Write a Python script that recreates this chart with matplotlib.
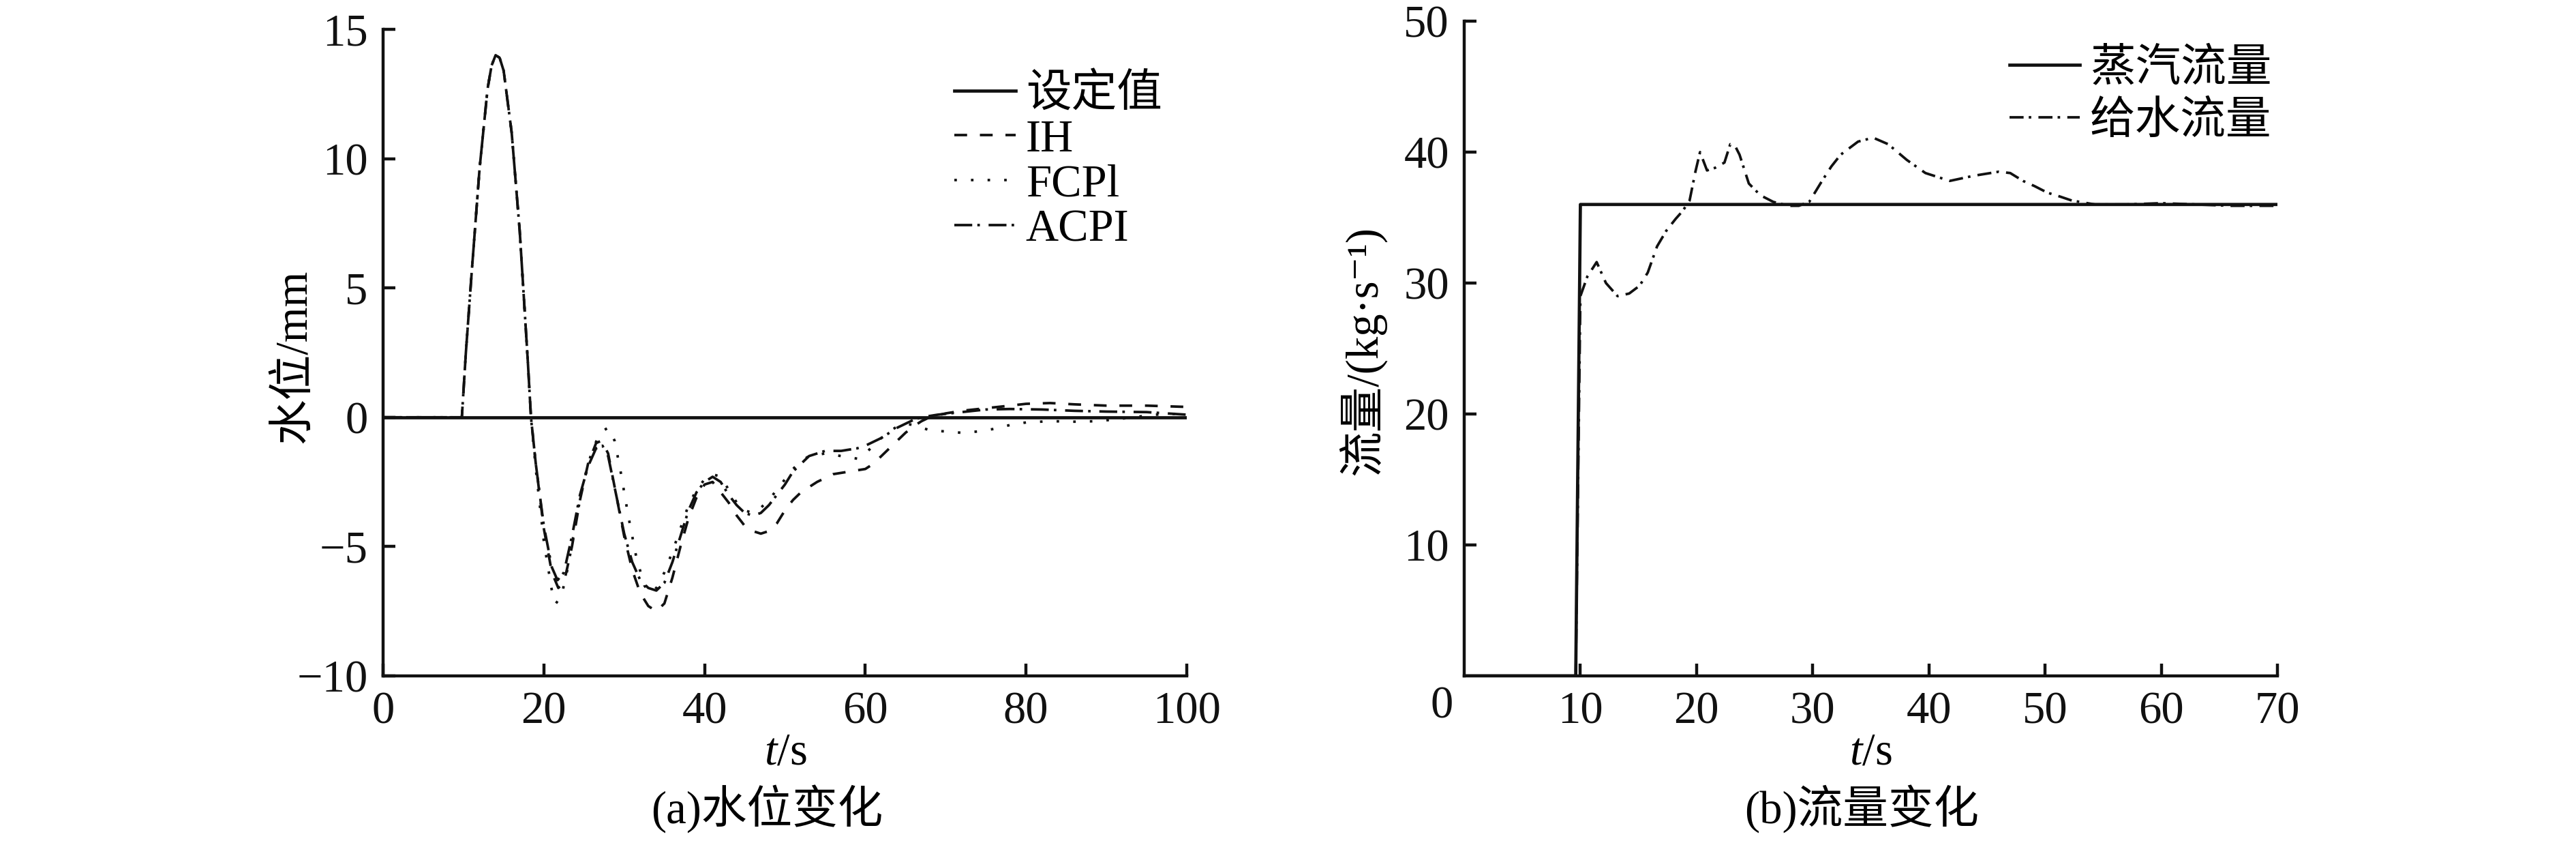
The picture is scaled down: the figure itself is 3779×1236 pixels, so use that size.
import numpy as np
import matplotlib
matplotlib.use("Agg")
import matplotlib.pyplot as plt

plt.rcParams['font.family'] = ['Liberation Serif', 'DejaVu Serif', 'Noto Sans CJK SC']
plt.rcParams['mathtext.fontset'] = 'custom'
plt.rcParams['mathtext.rm'] = 'Liberation Serif'
plt.rcParams['mathtext.it'] = 'Liberation Serif:italic'
plt.rcParams['axes.unicode_minus'] = True

# (a) water level, shared start (all three controllers coincide up to ~18 s)
t_common = [0, 9.8, 10.3, 11, 12, 13, 13.5, 14, 14.5, 15, 16, 17, 18, 18.4]
h_common = [0, 0, 2.5, 5.5, 9.6, 12.7, 13.6, 14.0, 13.9, 13.4, 11.0, 7.2, 2.2, 0]

t_ih = [19, 20, 21, 21.8, 22.5, 23.5, 24.5, 25.5, 26.5, 27.2, 28, 29, 30, 31, 32, 33, 34, 35, 36,
        37, 38, 39, 40, 41, 42, 43, 44, 45, 46, 47, 48, 49, 50, 51, 52, 54, 56, 58, 60, 61, 62, 63,
        64, 65, 66, 67, 68, 70, 72, 75, 78, 80, 83, 86, 90, 95, 100]
h_ih = [-1.8, -4.3, -6.0, -6.6, -6.4, -5.0, -3.2, -1.8, -1.0, -0.9, -1.4, -3.0, -4.6, -5.9, -6.8,
        -7.3, -7.5, -7.2, -6.2, -5.0, -3.9, -3.1, -2.6, -2.5, -2.9, -3.3, -3.8, -4.2, -4.4, -4.5,
        -4.4, -4.1, -3.6, -3.2, -2.9, -2.5, -2.2, -2.1, -2.0, -1.8, -1.5, -1.2, -0.9, -0.6, -0.35,
        -0.15, 0.0, 0.15, 0.25, 0.35, 0.45, 0.52, 0.55, 0.5, 0.45, 0.45, 0.4]

t_fcpl = [19, 20, 21, 21.5, 22.2, 23, 24, 25, 26, 27, 28, 28.8, 29.5, 30.5, 31.5, 32.5, 33.2, 34,
          35, 36, 37, 38, 39, 40, 41, 42, 43, 44, 45, 46, 47, 48, 49, 50, 51, 52, 53, 55, 57, 59,
          60, 61, 62, 63, 64, 65, 66, 68, 70, 72, 74, 76, 78, 80, 83, 86, 89, 92, 96, 100]
h_fcpl = [-2.0, -4.8, -6.7, -7.2, -6.9, -5.8, -4.0, -2.4, -1.3, -0.6, -0.4, -0.9, -2.0, -3.8, -5.4,
          -6.5, -6.8, -6.6, -6.0, -5.2, -4.3, -3.4, -2.8, -2.4, -2.2, -2.3, -2.8, -3.3, -3.6, -3.7,
          -3.5, -3.2, -2.8, -2.4, -2.0, -1.7, -1.5, -1.4, -1.5, -1.6, -1.4, -1.1, -0.8, -0.55, -0.35,
          -0.25, -0.3, -0.5, -0.55, -0.6, -0.55, -0.45, -0.3, -0.2, -0.15, -0.17, -0.15, -0.05, 0.1,
          0.15]

t_acpi = [19, 20, 21, 21.7, 22.5, 23.5, 24.5, 25.5, 26.5, 27.3, 28, 29, 30, 31, 32, 33, 34, 35, 36,
          37, 38, 39, 40, 41, 42, 43, 44, 45, 46, 47, 48, 49, 50, 51, 52, 53, 55, 57, 59, 60, 61,
          62, 63, 64, 65, 66, 67, 69, 72, 75, 78, 82, 86, 90, 95, 100]
h_acpi = [-1.8, -4.2, -5.8, -6.3, -6.0, -4.6, -3.0, -1.9, -1.2, -1.1, -1.5, -3.0, -4.5, -5.6, -6.3,
          -6.6, -6.7, -6.4, -5.6, -4.6, -3.6, -2.9, -2.5, -2.3, -2.5, -3.0, -3.4, -3.7, -3.8, -3.7,
          -3.4, -3.0, -2.6, -2.1, -1.8, -1.5, -1.3, -1.3, -1.2, -1.1, -0.95, -0.8, -0.6, -0.4,
          -0.25, -0.1, 0.0, 0.1, 0.2, 0.3, 0.32, 0.3, 0.25, 0.22, 0.2, 0.1]

t_set = [0, 100]
h_set = [0, 0]

# (b) flow
t_steam = [0, 9.6, 10.0, 70]
q_steam = [0, 0, 36, 36]

t_feed = [0, 9.6, 10.0, 10.6, 11.4, 12.2, 13.2, 14.2, 15.1, 15.8, 16.6, 17.4, 18.2, 18.8, 19.4,
          19.9, 20.3, 20.9, 21.6, 22.4, 22.9, 23.3, 23.7, 24.5, 25.5, 26.6, 27.9, 28.8, 29.7,
          30.8, 31.6, 32.4, 33.9, 35.2, 36.5, 38.1, 39.7, 41.8, 43.9, 46.0, 47.0, 48.1, 49.1,
          50.2, 51.3, 52.3, 54.3, 57, 60, 63, 66, 70]
q_feed = [0, 0, 29.0, 30.5, 31.6, 30.0, 29.0, 29.2, 29.8, 30.8, 32.8, 34.0, 34.9, 35.5, 36.3,
          38.5, 40.0, 38.6, 38.8, 39.2, 40.6, 40.5, 39.8, 37.6, 36.7, 36.2, 35.9, 35.9, 36.2,
          37.8, 38.9, 39.8, 40.8, 41.1, 40.6, 39.4, 38.4, 37.8, 38.2, 38.5, 38.4, 37.8, 37.4,
          36.9, 36.6, 36.3, 36.0, 36.0, 36.1, 36.0, 35.9, 35.9]

W, H = 3780, 1236
FS = 48
fig = plt.figure(figsize=(W / 100, H / 100), dpi=100)

ax1 = fig.add_axes([562 / W, 1 - 991 / H, (1741 - 562) / W, (991 - 43) / H])
ax2 = fig.add_axes([2148 / W, 1 - 991 / H, (3341 - 2148) / W, (991 - 31) / H])

col = '#111111'
lw = 2.7
ax1.plot(t_set, h_set, color=col, lw=3.4, label='设定值')
ax1.plot(t_common + t_ih, h_common + h_ih, color=col, lw=lw, dashes=(5, 5), label='IH')
ax1.plot(t_common + t_fcpl, h_common + h_fcpl, color=col, lw=lw, dashes=(1, 5.5), label='FCPl')
ax1.plot(t_common + t_acpi, h_common + h_acpi, color=col, lw=lw, dashes=(7, 2, 1, 3.4),
         label='ACPI')

ax2.plot(t_steam, q_steam, color=col, lw=3.4, label='蒸汽流量')
ax2.plot(t_feed, q_feed, color=col, lw=lw, dashes=(5.5, 2, 1, 2.8), label='给水流量')

ax1.set_xlim(0, 100)
ax1.set_ylim(-10, 15)
ax1.set_xticks(np.arange(0, 101, 20))
ax1.set_yticks(np.arange(-10, 16, 5))
ax2.set_xlim(0, 70)
ax2.set_ylim(0, 50)
ax2.set_xticks(np.arange(10, 71, 10))
ax2.set_yticks(np.arange(10, 51, 10))
ax2.annotate('0', xy=(0, 0), xycoords='data', xytext=(-33, -45), textcoords='offset pixels',
             ha='center', va='center', fontsize=FS, color=col)

for ax in (ax1, ax2):
    ax.spines['top'].set_visible(False)
    ax.spines['right'].set_visible(False)
    for s in ('left', 'bottom'):
        ax.spines[s].set_linewidth(3.2)
        ax.spines[s].set_color(col)
    ax.tick_params(direction='in', length=13, width=3.2, labelsize=FS, colors=col, pad=16)

ax1.legend(loc='upper left', bbox_to_anchor=(1400 / W, 1 - 108 / H), bbox_transform=fig.transFigure,
           frameon=False, fontsize=FS, handlelength=1.35, handletextpad=0.22, labelspacing=0.07,
           borderpad=0, borderaxespad=0)
ax2.legend(loc='upper left', bbox_to_anchor=(2948 / W, 1 - 70 / H), bbox_transform=fig.transFigure,
           frameon=False, fontsize=FS, handlelength=1.55, handletextpad=0.22, labelspacing=0.25,
           borderpad=0, borderaxespad=0)

fig.text(432 / W, 1 - 522 / H, '水位/mm', rotation=90, ha='center', va='center', fontsize=FS)
fig.text(1998 / W, 1 - 514 / H, '流量/(kg·s⁻¹)', rotation=90, ha='center', va='center', fontsize=FS)
fig.text(1152 / W, 1 - 1104 / H, '$t$/s', ha='center', va='center', fontsize=FS)
fig.text(2744 / W, 1 - 1104 / H, '$t$/s', ha='center', va='center', fontsize=FS)
fig.text(1125 / W, 1 - 1186 / H, '(a)水位变化', ha='center', va='center', fontsize=FS)
fig.text(2731 / W, 1 - 1186 / H, '(b)流量变化', ha='center', va='center', fontsize=FS)

fig.savefig('out.png', dpi=100)
